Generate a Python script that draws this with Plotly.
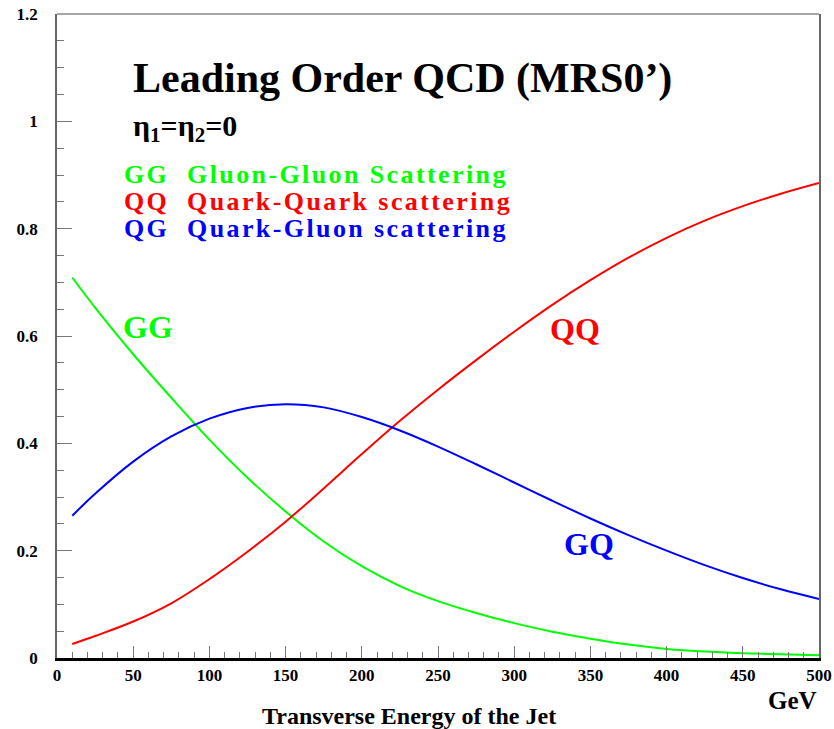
import plotly.graph_objects as go

# Transverse energy of the jet (GeV)
et = [10, 25, 50, 75, 100, 125, 150, 175, 200, 225, 250, 275, 300,
      325, 350, 375, 400, 425, 450, 475, 500]

# Subprocess fractions, leading-order QCD with MRS0' PDFs, eta1 = eta2 = 0
gg = [0.709, 0.653, 0.566, 0.485, 0.407, 0.336, 0.273, 0.217, 0.171, 0.134,
      0.106, 0.084, 0.065, 0.049, 0.036, 0.025, 0.017, 0.012, 0.009, 0.007, 0.005]
qq = [0.026, 0.041, 0.068, 0.102, 0.147, 0.198, 0.254, 0.316, 0.380, 0.442,
      0.500, 0.555, 0.608, 0.658, 0.704, 0.746, 0.783, 0.815, 0.842, 0.865, 0.885]
qg = [0.265, 0.306, 0.366, 0.413, 0.446, 0.466, 0.473, 0.467, 0.449, 0.424,
      0.394, 0.361, 0.327, 0.293, 0.260, 0.229, 0.200, 0.173, 0.149, 0.128, 0.110]

GREEN, RED, BLUE = "#00ff00", "#ff0000", "#0000ff"
SERIF = "Liberation Serif"

fig = go.Figure()
for y, c in [(gg, GREEN), (qq, RED), (qg, BLUE)]:
    fig.add_trace(go.Scatter(x=et, y=y, mode="lines",
                             line=dict(color=c, width=2, shape="spline", smoothing=1),
                             showlegend=False, hoverinfo="skip"))

fig.update_layout(
    width=834, height=729,
    margin=dict(l=57, r=15, t=14, b=71),
    plot_bgcolor="white", paper_bgcolor="white",
    font=dict(family=SERIF, color="black"),
)

fig.update_xaxes(
    range=[0, 500], showgrid=False, zeroline=False, automargin=False,
    showline=True, linecolor="black", linewidth=3,
    ticks="inside", tickcolor="#777777", ticklen=12, tickwidth=1,
    dtick=50, tick0=0,
    minor=dict(ticks="inside", ticklen=6, dtick=10, tickcolor="#777777"),
    tickfont=dict(family=SERIF, size=17, weight="bold", color="black"),
)
fig.update_yaxes(
    range=[0, 1.2], showgrid=False, zeroline=False, automargin=False,
    showline=True, linecolor="#666666", linewidth=1.5, mirror=True,
    ticks="inside", tickcolor="#777777", ticklen=15, tickwidth=1,
    dtick=0.2, tick0=0,
    minor=dict(ticks="inside", ticklen=7, dtick=0.05, tickcolor="#777777"),
    tickfont=dict(family=SERIF, size=17, weight="bold", color="black"),
    ticklabelstandoff=14,
)

# top frame line
fig.add_shape(type="line", xref="paper", yref="paper", x0=0, x1=1, y0=1, y1=1,
              line=dict(color="#888888", width=1.5))


def note(text, x, y, color="black", size=22, xanchor="left", xref="x", yref="y"):
    fig.add_annotation(text=text, x=x, y=y, xref=xref, yref=yref,
                       showarrow=False, xanchor=xanchor, yanchor="middle",
                       borderpad=0,
                       font=dict(family=SERIF, size=size, color=color, weight="bold"))


def spaced(text, px):
    return f'<span style="letter-spacing:{px}px">{text}</span>'


note("Leading Order QCD (MRS0’)", 49, 1.079, size=42)
note("η<sub>1</sub>=η<sub>2</sub>=0", 49, 0.988, size=30)
note(spaced("GG  Gluon-Gluon Scattering", 2.4), 43, 0.901, color=GREEN, size=26)
note(spaced("QQ  Quark-Quark scattering", 2.4), 43, 0.851, color=RED, size=26)
note(spaced("QG  Quark-Gluon scattering", 2.4), 43, 0.801, color=BLUE, size=26)

note("GG", 60, 0.617, color=GREEN, size=32, xanchor="center")
note("QQ", 340, 0.613, color=RED, size=32, xanchor="center")
note("GQ", 349, 0.213, color=BLUE, size=32, xanchor="center")

# axis unit and title below the frame (paper coordinates)
note("GeV", (792 - 57) / 762, -(700 - 658) / 644, size=25, xanchor="center",
     xref="paper", yref="paper")
note("Transverse Energy of the Jet", (409 - 57) / 762, -(716 - 658) / 644,
     size=24, xanchor="center", xref="paper", yref="paper")

fig.write_html("out.html")
